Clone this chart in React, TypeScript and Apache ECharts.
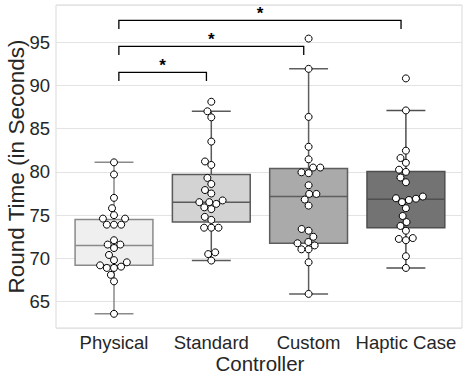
import React, { useEffect, useRef } from "react";
import * as echarts from "echarts";

// ---------- data ----------
const categories = ["Physical", "Standard", "Custom", "Haptic Case"];

const physicalTimes = [81.1, 79.7, 77.0, 75.8, 75.0, 74.6, 74.6, 73.9, 73.9, 73.9, 72.1, 71.6, 71.6, 71.2, 70.4, 69.8, 69.55, 69.2, 68.9, 68.9, 69.05, 68.1, 67.35, 63.6];
const standardTimes = [88.1, 87.0, 86.3, 83.5, 81.2, 80.8, 79.3, 78.6, 77.9, 77.5, 76.5, 76.5, 76.7, 76.3, 75.9, 75.7, 74.8, 74.45, 73.55, 73.55, 73.55, 70.7, 70.5, 69.75];
const customTimes = [95.4, 91.9, 86.35, 82.9, 81.45, 80.5, 80.5, 79.95, 79.85, 78.45, 77.45, 77.45, 76.8, 76.1, 73.4, 73.2, 72.5, 71.9, 71.75, 71.5, 71.05, 71.05, 69.55, 65.9];
const hapticTimes = [90.8, 87.1, 82.45, 81.6, 81.05, 80.25, 80.0, 79.35, 78.8, 77.15, 76.95, 76.9, 76.75, 76.5, 75.8, 74.9, 74.2, 73.75, 73.2, 72.35, 72.25, 72.1, 70.25, 68.9];
const groupTimes = [physicalTimes, standardTimes, customTimes, hapticTimes];

// box statistics: lower whisker, Q1, median, Q3, upper whisker
const boxLow = [63.6, 69.75, 65.9, 68.9];
const boxQ1 = [69.2, 74.2, 71.75, 73.55];
const boxMedian = [71.5, 76.5, 77.15, 76.85];
const boxQ3 = [74.5, 79.7, 80.4, 80.05];
const boxHigh = [81.1, 87.0, 91.9, 87.1];

// significance brackets
const compareFrom = [0, 0, 0];
const compareTo = [1, 2, 3];
const compareLevel = [91.5, 94.5, 97.5];
const compareLabel = ["*", "*", "*"];

const yTickLabels = ["65", "70", "75", "80", "85", "90", "95"];

// ---------- layout / style ----------
const W = 464;
const H = 376;
const TOP = 5;
const BOTTOM = 48;
const FRAME_LEFT = 56;
const FRAME_RIGHT = 2;
const BAND = 97.3;
const FIRST_CENTER = 114;
const Y_MIN = 61.96;
const Y_MAX = 99.28;
const FONT = "'Liberation Sans', Arial, Helvetica, sans-serif";
const TEXT = "#262626";
const FILLS = ["#efefef", "#d3d3d3", "#aaaaaa", "#737373"];
const EDGES = ["#8a8a8a", "#5a5a5a", "#5e5e5e", "#4f4f4f"];
const DOT_D = 7.2;

const PPU = (H - TOP - BOTTOM) / (Y_MAX - Y_MIN);

function swarmOffsets(values: number[], d: number): number[] {
  const order = values.map((_, i) => i).sort((a, b) => values[a] - values[b]);
  const placed: { x: number; y: number }[] = [];
  const out = new Array(values.length).fill(0);
  for (const i of order) {
    const y = values[i] * PPU;
    const nb = placed.filter((p) => Math.abs(p.y - y) < d);
    const cands = [0];
    for (const n of nb) {
      const dx = Math.sqrt(d * d - (n.y - y) * (n.y - y));
      cands.push(n.x - dx, n.x + dx);
    }
    cands.sort((a, b) => Math.abs(a) - Math.abs(b) || a - b);
    let chosen = cands[0];
    for (const c of cands) {
      if (nb.every((n) => (n.x - c) ** 2 + (n.y - y) ** 2 >= d * d - 1e-6)) {
        chosen = c;
        break;
      }
    }
    placed.push({ x: chosen, y });
    out[i] = chosen;
  }
  return out;
}

const boxData = categories.map((_, i) => [i, boxLow[i], boxQ1[i], boxMedian[i], boxQ3[i], boxHigh[i]]);
const pointData: number[][] = [];
groupTimes.forEach((vals, g) => {
  const offs = swarmOffsets(vals, DOT_D);
  vals.forEach((v, k) => pointData.push([g, v, offs[k]]));
});
const bracketData = compareFrom.map((f, i) => [f, compareTo[i], compareLevel[i]]);

export default function App() {
  const ref = useRef<HTMLDivElement>(null);
  useEffect(() => {
    if (!ref.current) return;
    const chart = echarts.init(ref.current, null, { renderer: "svg" });
    const grid1Left = FIRST_CENTER - BAND / 2;
    const yBase = {
      type: "value",
      min: Y_MIN,
      max: Y_MAX,
      splitNumber: 7,
      axisLine: { show: false },
      axisTick: { show: false },
    };
    const option: any = {
      animation: false,
      backgroundColor: "#ffffff",
      textStyle: { fontFamily: FONT },
      grid: [
        {
          left: FRAME_LEFT,
          right: FRAME_RIGHT,
          top: TOP,
          bottom: BOTTOM,
          show: true,
          borderColor: "#d9d9d9",
          borderWidth: 1,
          backgroundColor: "transparent",
          containLabel: false,
          outerBoundsMode: "none",
        },
        {
          left: grid1Left,
          width: BAND * 4,
          top: TOP,
          bottom: BOTTOM,
          containLabel: false,
          outerBoundsMode: "none",
        },
      ],
      xAxis: [
        { type: "value", gridIndex: 0, show: false, min: 0, max: 1 },
        {
          type: "category",
          gridIndex: 1,
          data: categories,
          axisLine: { show: false },
          axisTick: { show: false },
          axisLabel: { color: TEXT, fontSize: 18.5, fontFamily: FONT, margin: 5, interval: 0, hideOverlap: false },
          name: "Controller",
          nameLocation: "middle",
          nameGap: 24,
          nameMoveOverlap: false,
          nameTextStyle: { color: TEXT, fontSize: 20.5, fontFamily: FONT, verticalAlign: "top", lineHeight: 22 },
        },
      ],
      yAxis: [
        {
          ...yBase,
          gridIndex: 0,
          axisLabel: {
            color: TEXT,
            fontSize: 18.5,
            fontFamily: FONT,
            margin: 6,
            showMinLabel: false,
            showMaxLabel: false,
            formatter: (v: number) => (yTickLabels.includes(String(v)) ? String(v) : ""),
          },
          splitLine: { lineStyle: { color: "#e3e3e3", width: 1 } },
          name: "Round Time (in Seconds)",
          nameLocation: "middle",
          nameGap: 28,
          nameMoveOverlap: false,
          nameRotate: 90,
          nameTextStyle: { color: TEXT, fontSize: 22.5, fontFamily: FONT, lineHeight: 24 },
        },
        {
          ...yBase,
          gridIndex: 1,
          axisLabel: { show: false },
          splitLine: { show: false },
        },
      ],
      series: [
        {
          type: "custom",
          xAxisIndex: 1,
          yAxisIndex: 1,
          data: boxData,
          z: 2,
          renderItem: (params: any, api: any) => {
            const c = api.value(0);
            const lo = api.coord([c, api.value(1)]);
            const q1 = api.coord([c, api.value(2)]);
            const md = api.coord([c, api.value(3)]);
            const q3 = api.coord([c, api.value(4)]);
            const hi = api.coord([c, api.value(5)]);
            const bw = api.size([1, 0])[0] * 0.8;
            const cx = lo[0];
            const edge = EDGES[params.dataIndex];
            const ls = { stroke: edge, lineWidth: 1.5 };
            return {
              type: "group",
              children: [
                { type: "line", shape: { x1: cx, y1: q3[1], x2: cx, y2: hi[1] }, style: ls },
                { type: "line", shape: { x1: cx, y1: q1[1], x2: cx, y2: lo[1] }, style: ls },
                { type: "line", shape: { x1: cx - bw / 4, y1: hi[1], x2: cx + bw / 4, y2: hi[1] }, style: ls },
                { type: "line", shape: { x1: cx - bw / 4, y1: lo[1], x2: cx + bw / 4, y2: lo[1] }, style: ls },
                {
                  type: "rect",
                  shape: { x: cx - bw / 2, y: q3[1], width: bw, height: q1[1] - q3[1] },
                  style: { fill: FILLS[params.dataIndex], stroke: edge, lineWidth: 1.5 },
                },
                { type: "line", shape: { x1: cx - bw / 2, y1: md[1], x2: cx + bw / 2, y2: md[1] }, style: ls },
              ],
            };
          },
        },
        {
          type: "custom",
          xAxisIndex: 1,
          yAxisIndex: 1,
          data: pointData,
          z: 3,
          renderItem: (params: any, api: any) => {
            const p = api.coord([api.value(0), api.value(1)]);
            return {
              type: "circle",
              shape: { cx: p[0] + api.value(2), cy: p[1], r: 3.5 },
              style: { fill: "#ffffff", stroke: "#000000", lineWidth: 1 },
            };
          },
        },
        {
          type: "custom",
          xAxisIndex: 1,
          yAxisIndex: 1,
          data: bracketData,
          z: 4,
          clip: false,
          renderItem: (params: any, api: any) => {
            const band = api.size([1, 0])[0];
            const a = api.coord([api.value(0), api.value(2)]);
            const b = api.coord([api.value(1), api.value(2)]);
            const drop = api.size([0, 1])[1];
            const x1 = a[0] + band * 0.05;
            const x2 = b[0] - band * 0.05;
            const y = a[1];
            return {
              type: "group",
              children: [
                {
                  type: "polyline",
                  shape: { points: [[x1, y + drop], [x1, y], [x2, y], [x2, y + drop]] },
                  style: { stroke: "#000000", lineWidth: 1.3, fill: "none" },
                },
                {
                  type: "text",
                  style: {
                    text: compareLabel[params.dataIndex],
                    x: (x1 + x2) / 2,
                    y: y + 2,
                    align: "center",
                    verticalAlign: "bottom",
                    fontSize: 17,
                    fontWeight: "bold",
                    fontFamily: FONT,
                    fill: "#000000",
                  },
                },
              ],
            };
          },
        },
      ],
    };
    chart.setOption(option);
    return () => chart.dispose();
  }, []);
  return <div ref={ref} style={{ position: "fixed", left: 0, top: 0, width: W, height: H }} />;
}
